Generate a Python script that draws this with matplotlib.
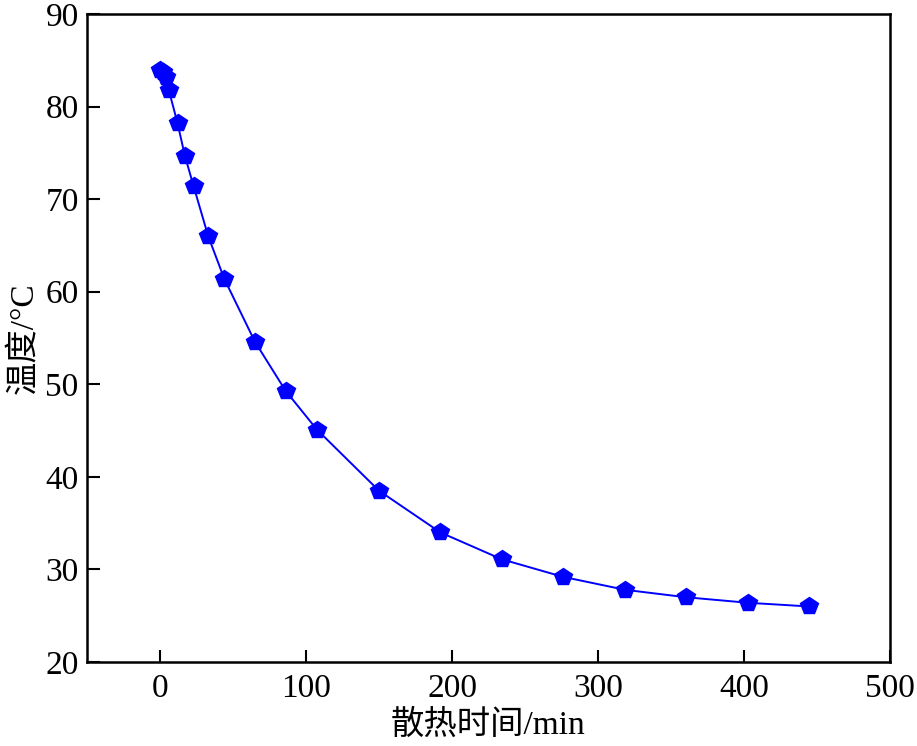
import matplotlib
matplotlib.use("Agg")
import matplotlib.pyplot as plt

# cooling time (min) and temperature (°C)
time_min = [0, 2, 4, 6, 12, 17, 23, 33, 44, 65, 86, 107.5, 150, 192, 234, 276, 318.5, 360, 402.5, 444.5]
temp_c = [84.0, 83.7, 83.2, 81.8, 78.2, 74.7, 71.4, 66.0, 61.4, 54.6, 49.3, 45.1, 38.5, 34.0, 31.1, 29.2, 27.8, 27.0, 26.4, 26.0]

xticks = [0, 100, 200, 300, 400, 500]
yticks = [20, 30, 40, 50, 60, 70, 80, 90]

FONT = ["Liberation Serif", "Noto Sans CJK SC", "DejaVu Sans"]
plt.rcParams["font.family"] = FONT

fig = plt.figure(figsize=(9.17, 7.46), dpi=100)
ax = fig.add_axes([0.0949, 0.1126, 0.8757, 0.8686])

ax.plot(time_min, temp_c, color="blue", lw=1.4, marker="p", ms=13,
        markerfacecolor="blue", markeredgecolor="blue")

ax.set_xlim(-50, 500)
ax.set_ylim(20, 90)
ax.set_xticks(xticks)
ax.set_yticks(yticks)
ax.tick_params(direction="in", length=9, width=1.5, labelsize=24, pad=8,
               top=False, right=False)
ax.tick_params(axis="y", pad=6)
for s in ax.spines.values():
    s.set_linewidth(1.8)

ax.set_xlabel("散热时间/min", fontsize=24, labelpad=4)
ax.set_ylabel("温度/°C", fontsize=24, labelpad=4)

fig.savefig("out.png", dpi=100)
